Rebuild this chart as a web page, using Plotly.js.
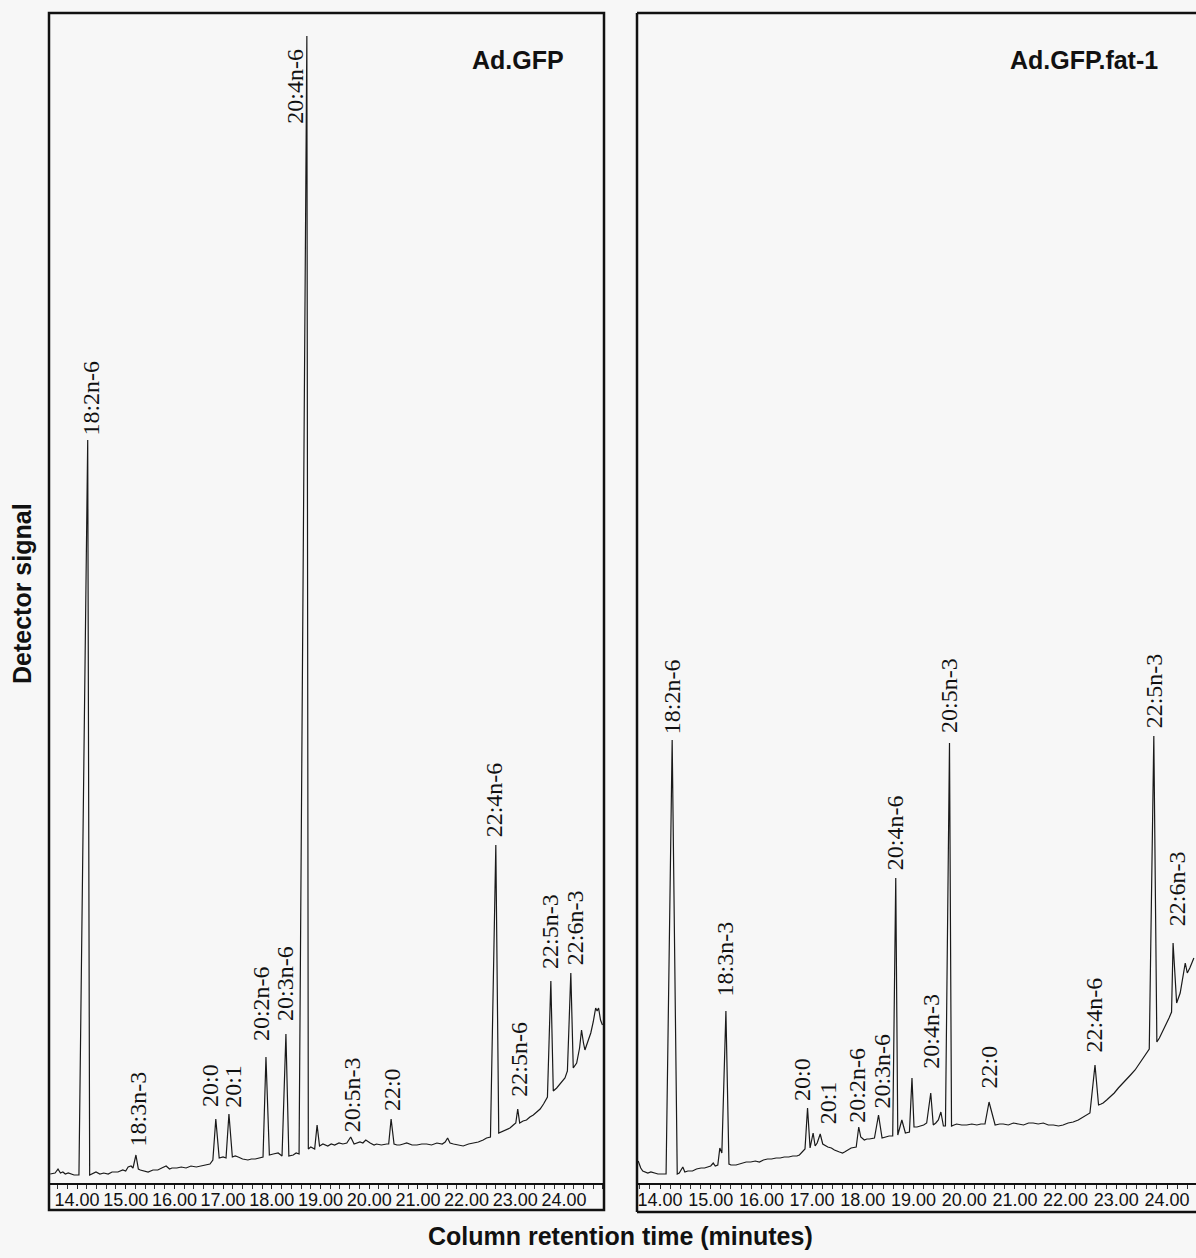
<!DOCTYPE html>
<html>
<head>
<meta charset="utf-8">
<script src="https://cdn.plot.ly/plotly-3.0.1.min.js"></script>
<style>html,body{margin:0;padding:0;background:#f7f7f7;}#chart{width:1196px;height:1258px;}</style>
</head>
<body>
<div id="chart"></div>
<script>
// ---- Data (retention time in minutes, detector signal in arbitrary units) ----
const panelTitles = ["Ad.GFP", "Ad.GFP.fat-1"];
const tickValues = [14, 15, 16, 17, 18, 19, 20, 21, 22, 23, 24];

// Ad.GFP chromatogram
const timeGFP = [13.45,13.55,13.61,13.66,13.71,13.76,13.82,13.94,14.04,14.22,14.26,14.31,14.39,14.47,14.55,14.64,14.72,14.84,14.94,15.00,15.05,15.11,15.15,15.21,15.26,15.30,15.36,15.46,15.56,15.66,15.74,15.83,15.90,15.95,16.05,16.14,16.24,16.34,16.45,16.55,16.64,16.73,16.79,16.85,16.92,17.00,17.06,17.12,17.19,17.25,17.31,17.40,17.51,17.58,17.66,17.72,17.82,17.88,17.95,18.03,18.13,18.21,18.29,18.35,18.44,18.50,18.56,18.72,18.75,18.80,18.88,18.93,18.98,19.05,19.15,19.22,19.29,19.38,19.46,19.54,19.62,19.69,19.75,19.81,19.87,19.93,20.02,20.10,20.15,20.25,20.36,20.40,20.45,20.51,20.57,20.63,20.70,20.77,20.88,20.98,21.08,21.18,21.28,21.39,21.50,21.56,21.61,21.66,21.73,21.83,21.93,22.04,22.14,22.24,22.34,22.41,22.49,22.60,22.66,22.75,22.82,22.89,22.96,23.01,23.05,23.09,23.16,23.23,23.30,23.37,23.44,23.51,23.58,23.66,23.73,23.78,23.85,23.92,23.97,24.02,24.07,24.14,24.19,24.26,24.32,24.36,24.40,24.43,24.50,24.55,24.60,24.65,24.68,24.71,24.75,24.79];
const signalGFP = [9,10,14,10,11,9,10,8,8,743,8,9,11,9,10,9,11,11,13,12,16,17,15,28,14,13,12,11,13,13,15,17,14,15,15,16,15,17,16,17,18,19,23,64,25,26,25,69,26,27,26,24,23,24,24,25,26,126,28,29,30,27,149,27,28,30,29,1147,34,36,34,58,37,39,37,39,38,40,39,40,46,39,40,41,40,43,40,38,39,38,39,39,64,39,38,38,39,40,38,38,39,39,38,40,39,41,45,40,39,38,37,39,40,41,43,45,46,338,50,52,53,55,58,60,74,60,62,63,66,68,71,74,79,86,202,92,95,99,102,105,112,210,115,120,135,153,140,133,143,150,161,175,172,175,163,158];

// Ad.GFP.fat-1 chromatogram
const timeFat1 = [13.57,13.62,13.66,13.71,13.76,13.82,13.89,13.96,14.02,14.12,14.24,14.34,14.38,14.45,14.49,14.55,14.64,14.72,14.81,14.88,14.94,15.00,15.05,15.09,15.14,15.18,15.22,15.30,15.36,15.40,15.50,15.56,15.63,15.70,15.79,15.88,15.96,16.04,16.12,16.20,16.29,16.37,16.45,16.54,16.62,16.70,16.75,16.81,16.86,16.91,16.96,17.02,17.06,17.10,17.16,17.21,17.31,17.38,17.44,17.54,17.60,17.64,17.71,17.77,17.87,17.92,17.96,18.03,18.08,18.13,18.23,18.31,18.38,18.46,18.52,18.59,18.65,18.69,18.77,18.84,18.92,18.97,19.01,19.07,19.13,19.20,19.26,19.34,19.39,19.44,19.49,19.54,19.59,19.63,19.71,19.75,19.80,19.85,19.95,20.05,20.15,20.25,20.33,20.41,20.49,20.61,20.70,20.77,20.87,20.97,21.07,21.17,21.27,21.36,21.46,21.56,21.66,21.76,21.86,21.95,22.05,22.15,22.25,22.35,22.42,22.48,22.58,22.65,22.70,22.74,22.81,22.88,22.96,23.04,23.12,23.20,23.28,23.37,23.45,23.53,23.58,23.65,23.74,23.80,23.85,23.90,23.95,23.99,24.04,24.09,24.12,24.19,24.26,24.36,24.40,24.45,24.49,24.53];
const signalFat1 = [22,15,12,11,10,11,10,9,9,9,443,9,10,16,11,12,12,14,15,15,16,17,20,17,18,35,30,172,19,18,18,19,20,21,21,22,21,23,24,24,25,25,26,26,27,27,28,31,34,75,35,50,37,40,49,39,36,35,33,31,30,31,33,35,36,56,46,43,44,44,45,68,45,46,47,47,305,48,63,50,51,105,56,56,57,58,60,90,58,60,63,71,57,57,440,57,58,59,58,58,59,58,59,59,81,58,59,59,58,60,59,58,60,60,59,60,58,58,57,58,60,61,63,66,68,70,118,78,79,80,83,86,90,95,99,103,108,113,119,125,129,134,447,141,145,150,155,160,165,171,240,180,190,220,210,215,220,225];

// Peak labels: name, time of label, signal level where label begins
const labelsGFP = ["18:2n-6","18:3n-3","20:0","20:1","20:2n-6","20:3n-6","20:4n-6","20:5n-3","22:0","22:4n-6","22:5n-6","22:5n-3","22:6n-3"];
const labelTimeGFP = [14.29,15.25,16.72,17.19,17.77,18.26,18.48,19.64,20.46,22.56,23.06,23.70,24.22];
const labelLevelGFP = [746,36,75,74,141,161,1058,50,71,345,85,213,217];

const labelsFat1 = ["18:2n-6","18:3n-3","20:0","20:1","20:2n-6","20:3n-6","20:4n-6","20:4n-3","20:5n-3","22:0","22:4n-6","22:5n-3","22:6n-3"];
const labelTimeFat1 = [14.23,15.28,16.79,17.31,17.87,18.36,18.63,19.33,19.69,20.47,22.56,23.74,24.19];
const labelLevelFat1 = [448,186,81,58,59,73,312,113,449,93,130,454,256];

// ---- Layout geometry (pixels of the 1196x1258 page) ----
const W = 1196, H = 1258;
const px = v => v / W, py = v => 1 - v / H;
const axisLineY = 1183, plotTopY = 13, boxBottomY = 1210;
const yTop = axisLineY - plotTopY; // signal units == pixels here

const lineStyle = {color: '#1a1a1a', width: 1.2};

const traces = [
  {x: timeGFP, y: signalGFP, xaxis: 'x', yaxis: 'y', type: 'scatter', mode: 'lines', line: lineStyle, hoverinfo: 'x+y', showlegend: false},
  {x: timeFat1, y: signalFat1, xaxis: 'x2', yaxis: 'y2', type: 'scatter', mode: 'lines', line: lineStyle, hoverinfo: 'x+y', showlegend: false}
];

const tickFont = {family: 'Liberation Sans, Arial, sans-serif', size: 18, color: '#111'};
function xAxis(domain, range) {
  return {
    domain: domain, range: range, anchor: domain[0] < 0.5 ? 'y' : 'y2',
    tickmode: 'array', tickvals: tickValues, ticktext: tickValues.map(v => v.toFixed(2)),
    tickangle: 0,
    ticks: 'outside', ticklen: 4, tickwidth: 1, tickcolor: '#222',
    minor: {ticks: 'outside', dtick: 0.2, tick0: 14, ticklen: 4, tickwidth: 1, tickcolor: '#333', showgrid: false},
    showline: true, linecolor: '#111', linewidth: 1.5,
    showgrid: false, zeroline: false, tickfont: tickFont, ticklabelstandoff: -4, fixedrange: true
  };
}
function yAxis(anchor) {
  return {domain: [py(axisLineY), py(plotTopY)], range: [0, yTop], anchor: anchor,
    showgrid: false, zeroline: false, showticklabels: false, ticks: '', showline: false, fixedrange: true};
}

const leftL = 49, leftR = 604, rightL = 637, rightR = 1196;
const layout = {
  width: W, height: H,
  margin: {l: 0, r: 0, t: 0, b: 0},
  paper_bgcolor: '#f7f7f7', plot_bgcolor: '#f7f7f7',
  showlegend: false,
  xaxis: xAxis([px(leftL), px(leftR)], [14 + (leftL - 77) / 48.7, 14 + (leftR - 77) / 48.7]),
  xaxis2: xAxis([px(rightL), px(rightR)], [14 + (rightL - 660) / 50.7, 14 + (rightR - 660) / 50.7]),
  yaxis: yAxis('x'),
  yaxis2: yAxis('x2'),
  shapes: [
    {type: 'rect', xref: 'paper', yref: 'paper', x0: px(leftL), x1: px(leftR), y0: py(boxBottomY), y1: py(plotTopY), line: {color: '#111', width: 2.5}},
    {type: 'line', xref: 'paper', yref: 'paper', x0: px(rightL), x1: 1.01, y0: py(plotTopY), y1: py(plotTopY), line: {color: '#111', width: 2.5}},
    {type: 'line', xref: 'paper', yref: 'paper', x0: px(rightL), x1: 1.01, y0: py(boxBottomY + 2), y1: py(boxBottomY + 2), line: {color: '#111', width: 2.5}},
    {type: 'line', xref: 'paper', yref: 'paper', x0: px(rightL), x1: px(rightL), y0: py(boxBottomY + 2), y1: py(plotTopY), line: {color: '#111', width: 2.5}}
  ],
  annotations: []
};

const labelFont = {family: 'Liberation Serif, Times New Roman, serif', size: 24, color: '#111'};
labelsGFP.forEach((t, i) => layout.annotations.push({
  text: t, x: labelTimeGFP[i], y: labelLevelGFP[i], xref: 'x', yref: 'y',
  textangle: -90, xanchor: 'center', yanchor: 'bottom', showarrow: false, font: labelFont, borderpad: 0
}));
labelsFat1.forEach((t, i) => layout.annotations.push({
  text: t, x: labelTimeFat1[i], y: labelLevelFat1[i], xref: 'x2', yref: 'y2',
  textangle: -90, xanchor: 'center', yanchor: 'bottom', showarrow: false, font: labelFont, borderpad: 0
}));

const titleFont = {family: 'Liberation Sans, Arial, sans-serif', size: 25, color: '#111', weight: 'bold'};
const axisTitleFont = {family: 'Liberation Sans, Arial, sans-serif', size: 25, color: '#111', weight: 'bold'};
layout.annotations.push(
  {text: panelTitles[0], xref: 'paper', yref: 'paper', x: px(566), y: py(60), xanchor: 'right', yanchor: 'middle', showarrow: false, font: titleFont},
  {text: panelTitles[1], xref: 'paper', yref: 'paper', x: px(1160), y: py(60), xanchor: 'right', yanchor: 'middle', showarrow: false, font: titleFont},
  {text: 'Detector signal', xref: 'paper', yref: 'paper', x: px(22), y: py(594), xanchor: 'center', yanchor: 'middle', textangle: -90, showarrow: false, font: axisTitleFont},
  {text: 'Column retention time (minutes)', xref: 'paper', yref: 'paper', x: px(620), y: py(1236), xanchor: 'center', yanchor: 'middle', showarrow: false, font: axisTitleFont}
);

Plotly.newPlot('chart', traces, layout, {staticPlot: true, displayModeBar: false});
</script>
</body>
</html>
